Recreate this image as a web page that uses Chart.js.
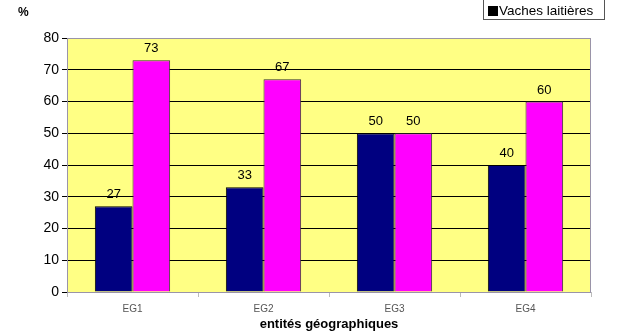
<!DOCTYPE html>
<html>
<head>
<meta charset="utf-8">
<script src="https://cdn.jsdelivr.net/npm/chart.js@4"></script>
<style>
	body { margin: 0; background: #fff; }
	#wrap { position: relative; width: 636px; height: 336px; overflow: hidden; }
	#legend {
		position: absolute; left: 483px; top: -10px; width: 122px; height: 30px;
		border: 1px solid #555; background: #fff; box-sizing: border-box;
		font: 13.5px Arial, "Liberation Sans", sans-serif; color: #000;
	}
	#legend .row { position: absolute; left: 4px; top: 12px; }
	#legend .sq { display: inline-block; width: 10px; height: 10px; background: #000; margin-right: 1px; vertical-align: -1px; }
	#pct { position: absolute; left: 18px; top: 5px; font: bold 12px Arial, "Liberation Sans", sans-serif; }
</style>
</head>
<body>
<div id="wrap">
	<canvas id="myChart" width="636" height="336"></canvas>
	<div id="pct">%</div>
	<div id="legend"><div class="row"><span class="sq"></span>Vaches laitières</div></div>
</div>
<script>
const categories = ["EG1", "EG2", "EG3", "EG4"]
const seriesA = [27, 33, 50, 40]
const seriesB = [73, 67, 50, 60]
const yTicks = [0, 10, 20, 30, 40, 50, 60, 70, 80]

const plotBack = {
	id: "plotBack",
	beforeDraw(chart) {
		const a = chart.chartArea
		const ctx = chart.ctx
		ctx.save()
		ctx.fillStyle = "#ffff84"
		ctx.fillRect(a.left, a.top, a.right - a.left, a.bottom - a.top)
		ctx.restore()
	},
	afterDraw(chart) {
		const a = chart.chartArea
		const ctx = chart.ctx
		ctx.save()
		ctx.strokeStyle = "#9a94a8"
		ctx.lineWidth = 1
		ctx.strokeRect(a.left + 0.5, a.top + 0.5, a.right - a.left - 1, a.bottom - a.top)
		// value labels over bars
		ctx.fillStyle = "#000"
		ctx.font = "13px Arial, 'Liberation Sans', sans-serif"
		ctx.textAlign = "center"
		ctx.textBaseline = "bottom"
		chart.data.datasets.forEach((ds, i) => {
			chart.getDatasetMeta(i).data.forEach((bar, j) => {
				ctx.fillText(ds.data[j], bar.x, bar.y - 5)
			})
		})
		ctx.restore()
	}
}

const chart = new Chart("myChart", {
	type: "bar",
	data: {
		labels: categories,
		datasets: [
			{ label: "série 1", data: seriesA, backgroundColor: "#000080", borderColor: "#000", borderWidth: 1, borderSkipped: "bottom" },
			{ label: "Vaches laitières", data: seriesB, backgroundColor: "#ff00ff", borderColor: "#333", borderWidth: 1, borderSkipped: "bottom" }
		]
	},
	options: {
		responsive: false,
		animation: false,
		layout: { padding: { top: 38, right: 45, left: 0, bottom: 0 } },
		datasets: { bar: { categoryPercentage: 0.575, barPercentage: 1 } },
		plugins: { legend: { display: false }, tooltip: { enabled: false } },
		scales: {
			x: {
				grid: { display: true, drawOnChartArea: false, color: "#bbb", tickLength: 5, offset: true },
				border: { display: false },
				ticks: { color: "#555", font: { size: 10, family: "Arial" }, padding: 6 },
				title: { display: true, text: "entités géographiques", color: "#000", font: { size: 13, weight: "bold", family: "Arial" }, padding: { top: 0 } },
				afterFit(scale) { scale.height = 44 }
			},
			y: {
				min: 0, max: 80,
				afterBuildTicks(scale) { scale.ticks = yTicks.map(v => ({ value: v })) },
				grid: { color: "#000", lineWidth: 1, tickLength: 5 },
				border: { display: false },
				ticks: { color: "#000", font: { size: 14, family: "Arial" }, padding: 3 },
				afterFit(scale) { scale.width = 67 }
			}
		}
	},
	plugins: [plotBack]
})
</script>
</body>
</html>
